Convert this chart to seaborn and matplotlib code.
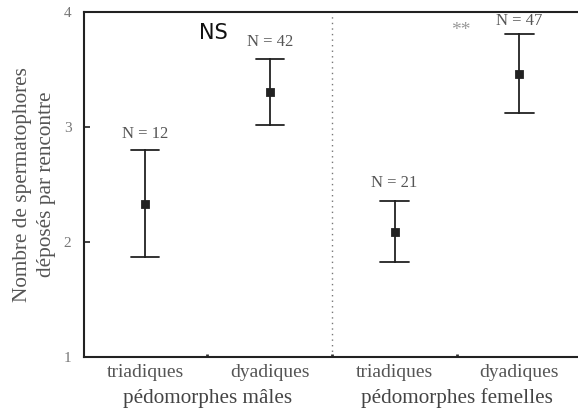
import numpy as np
import pandas as pd
import matplotlib
matplotlib.use("Agg")
import matplotlib.pyplot as plt
import seaborn as sns

groups = ["mâles triadiques", "mâles dyadiques", "femelles triadiques", "femelles dyadiques"]
tick_labels = ["triadiques", "dyadiques", "triadiques", "dyadiques"]
means = [2.33, 3.30, 2.09, 3.46]
lower = [1.87, 3.02, 1.83, 3.12]
upper = [2.80, 3.59, 2.36, 3.81]
n_labels = ["N = 12", "N = 42", "N = 21", "N = 47"]
group_labels = ["pédomorphes mâles", "pédomorphes femelles"]
signif = ["NS", "**"]

rows = []
for g, lo, m, hi in zip(groups, lower, means, upper):
    for v in (lo, m, hi):
        rows.append({"groupe": g, "valeur": v})
df = pd.DataFrame(rows)

sns.set_style("ticks")
plt.rcParams['font.family'] = ['Liberation Serif', 'DejaVu Serif']

fig = plt.figure(figsize=(5.78, 4.12), dpi=100)
ax = fig.add_axes([0.1453, 0.1335, 0.8547, 0.8374])

sns.pointplot(data=df, x="groupe", y="valeur", order=groups,
              estimator=np.median, errorbar=("pi", 100),
              linestyle="none", marker="s", markersize=5,
              color="#222222", capsize=0.23, err_kws={"linewidth": 1.3},
              ax=ax)

ax.set_xlim(-0.49, 3.47)
ax.set_ylim(1, 4)
ax.set_yticks([1, 2, 3, 4])
ax.set_yticklabels(["1", "2", "3", "4"], color="#777777", fontsize=11)
ax.set_xticks(range(4))
ax.set_xticklabels(tick_labels, color="#555555", fontsize=14)
ax.tick_params(axis="x", length=0, pad=5)
ax.tick_params(axis="y", length=4, width=1.3, direction="in", pad=9, color="#333333")
ax.set_xticks([0.5, 1.5, 2.5], minor=True)
ax.tick_params(axis="x", which="minor", length=2, width=2, direction="in", color="#333333")

for s in ["left", "bottom", "top"]:
    ax.spines[s].set_linewidth(1.5)
    ax.spines[s].set_color("#222222")
ax.spines["right"].set_visible(False)

ax.axvline(1.5, color="#777777", linestyle=(0, (1, 3)), linewidth=1)

ax.set_xlabel("")
ax.set_ylabel("Nombre de spermatophores\ndéposés par rencontre", color="#555555",
              fontsize=15.3, linespacing=1.35, labelpad=6)

label_offsets = [0.07, 0.08, 0.08, 0.04]
for i, (hi, lab) in enumerate(zip(upper, n_labels)):
    ax.text(i, hi + label_offsets[i], lab, ha="center", va="bottom",
            color="#555555", fontsize=12)

ax.text(0.55, 3.82, signif[0], ha="center", va="center", family="DejaVu Sans",
        fontsize=15, color="#111111")
ax.text(2.53, 3.84, signif[1], ha="center", va="center", fontsize=14, color="#999999")

for xc, lab in zip([0.5, 2.5], group_labels):
    ax.text(xc, -0.12, lab, transform=ax.get_xaxis_transform(), ha="center", va="center",
            color="#444444", fontsize=15.2)

fig.savefig("out.png", dpi=100)
